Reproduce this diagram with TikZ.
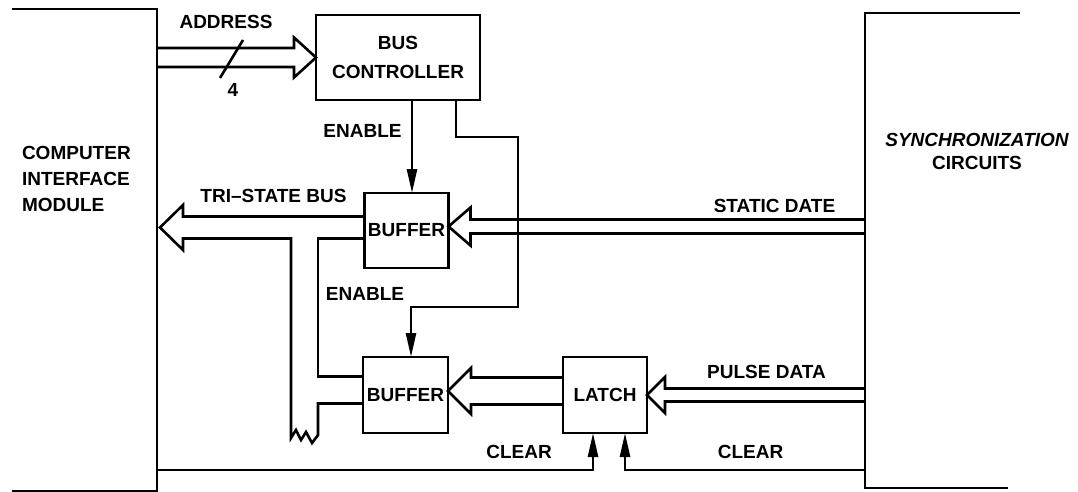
\documentclass[tikz,border=0pt]{standalone}
\usepackage{fontspec}
\setmainfont{Liberation Sans}
\usetikzlibrary{calc,arrows.meta}
\newcommand{\mylbl}{\fontsize{19}{29}\selectfont\bfseries}
\tikzset{
  wire/.style={line width=2.6pt, line join=miter},
  box/.style={draw, line width=2.6pt, rectangle, inner sep=0pt, outer sep=0pt, align=center, font=\mylbl},
  lbl/.style={inner sep=0pt, outer sep=0pt, font=\mylbl},
  frame/.style={rectangle, inner sep=0pt, outer sep=0pt},
  tri/.style={-{Triangle[length=24pt,width=10pt]}},
}
% #1 tip, #2 tail node (x used), #3 half gap, #4 half head width, #5 signed head length
\newcommand{\fatarrow}[5]{%
  \draw[wire] ($(#1 -| #2)+(0,-#3)$) -- ($(#1)+(#5,-#3)$) -- ($(#1)+(#5,-#4)$) -- (#1)
     -- ($(#1)+(#5,#4)$) -- ($(#1)+(#5,#3)$) -- ($(#1 -| #2)+(0,#3)$);}
\begin{document}
\begin{tikzpicture}[x=1pt,y=-1pt]
\useasboundingbox (0,0) rectangle (1078,492);
% outer modules (open frames)
\node[frame, minimum width=145pt, minimum height=482pt] (cim) at (84.5,250) {};
\draw[wire] (cim.north west) -- (cim.north east) -- (cim.south east) -- (cim.south west);
\node[frame, minimum width=155pt, minimum height=475pt] (sync) at (942.5,250.5) {};
\draw[wire] (sync.north east) -- (sync.north west) -- (sync.south west) -- ($(sync.south east)+(-12,0)$);
\node[lbl, anchor=west, align=left, font=\fontsize{19}{26}\selectfont\bfseries] (cimtxt) at (22,179) {COMPUTER\\INTERFACE\\MODULE};
\node[lbl, align=center, font=\fontsize{19}{23}\selectfont\bfseries] (synctxt) at (977,151.5) {{\itshape SYNCHRONIZATION}\\CIRCUITS};
% blocks
\node[box, minimum width=164pt, minimum height=85pt] (busctrl) at (398,57.5) {BUS\\CONTROLLER};
\node[box, minimum width=84pt, minimum height=75pt] (buf1) at (406.5,230.5) {BUFFER};
\node[box, minimum width=85pt, minimum height=76pt] (buf2) at (405.5,395) {BUFFER};
\node[box, minimum width=84pt, minimum height=76pt] (latch) at (605,395) {LATCH};
% address bus
\fatarrow{busctrl.west}{cim.east}{9.5}{20}{-22}
\draw[wire] (220,78) -- (243,40);
\node[lbl] (addr) at (226,22) {ADDRESS};
\node[lbl] (four) at (233,90) {4};
% static data bus
\coordinate (sdTip) at ($(buf1.east)+(0,-4)$);
\fatarrow{sdTip}{sync.west}{7}{19}{22}
\node[lbl] (sdtxt) at (774.5,206) {STATIC DATE};
% latch -> buffer bus
\coordinate (lbTip) at ($(buf2.east)+(0,-4)$);
\fatarrow{lbTip}{latch.west}{13.5}{23}{23}
% pulse data bus
\fatarrow{latch.east}{sync.west}{6.5}{18}{18}
\node[lbl] (pdtxt) at (766.5,372) {PULSE DATA};
% tri-state bus
\coordinate (tsTip) at (160,227.5);
\coordinate (tsA) at (183,216.5);
\coordinate (tsB) at (183,205);
\coordinate (tsC) at (183,250);
\coordinate (tsD) at (183,238.5);
\coordinate (chL) at (291,238.5);
\coordinate (chR) at (318,238.5);
\coordinate (chTop) at (318,376.5);
\coordinate (chBot) at (318,403.5);
\draw[wire] (buf1.west |- tsA) -- (tsA) -- (tsB) -- (tsTip) -- (tsC) -- (tsD) -- (chL)
  -- (291,438) -- (296,430) -- (301,440) -- (306,432) -- (312,443) -- (318,435)
  -- (chBot) -- (chBot -| buf2.west);
\draw[wire] (buf1.west |- chR) -- (chR) -- (chTop) -- (chTop -| buf2.west);
\node[lbl] (tstxt) at (273.5,196) {TRI--STATE BUS};
% enable lines
\coordinate (e1) at ($(busctrl.south)+(14,0)$);
\draw[wire, tri] (e1) -- (e1 |- buf1.north);
\node[lbl] (en1) at (362.5,131) {ENABLE};
\coordinate (e2s) at ($(busctrl.south)+(58,0)$);
\coordinate (e2a) at (518,137);
\coordinate (e2b) at (411,307);
\draw[wire, tri] (e2s) |- (e2a) |- (e2b) -- (e2b |- buf2.north);
\node[lbl] (en2) at (365,294) {ENABLE};
% clear lines
\coordinate (clrL) at (593,470);
\coordinate (clrR) at (625,470);
\draw[wire, tri] (cim.east |- clrL) -- (clrL) -- (clrL |- latch.south);
\draw[wire, tri] (sync.west |- clrR) -- (clrR) -- (clrR |- latch.south);
\node[lbl] (clr1) at (519,452) {CLEAR};
\node[lbl] (clr2) at (750.5,452) {CLEAR};
\end{tikzpicture}
\end{document}
